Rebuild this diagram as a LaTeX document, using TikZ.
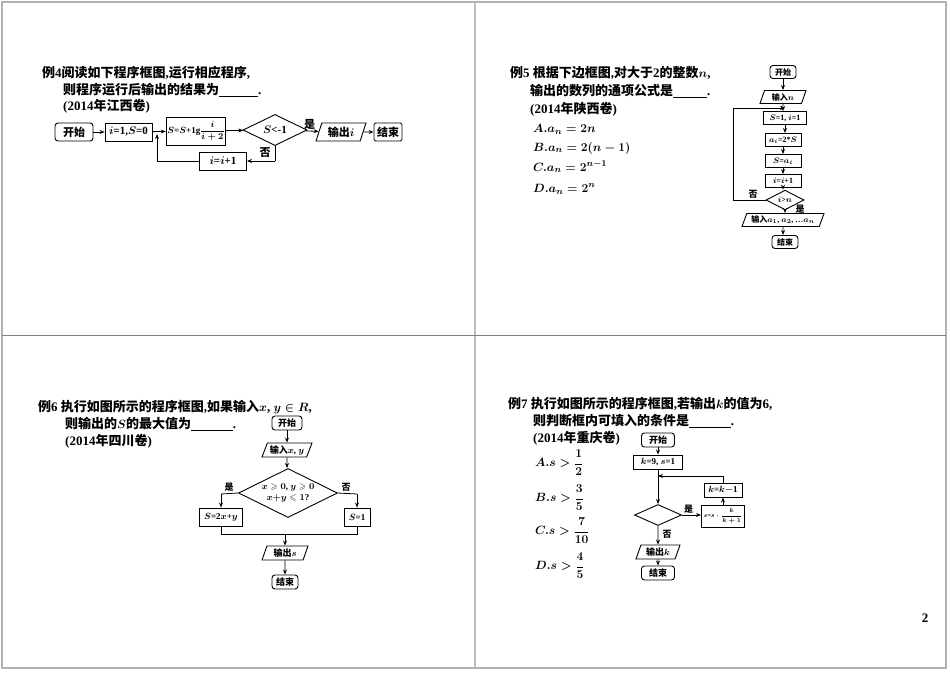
\documentclass[tikz,border=0pt]{standalone}
\usepackage{amsmath,amssymb}
\usepackage{fontspec}
\setmainfont{Liberation Serif}
\newfontfamily\cjk{Noto Sans CJK SC}
\newcommand{\C}[1]{{\cjk\bfseries #1}}
\usetikzlibrary{shapes.geometric,arrows.meta}
\begin{document}
\begin{tikzpicture}[x=1pt,y=-1pt,
  every node/.style={font=\bfseries\boldmath},
  txt/.style={anchor=west,inner sep=0pt,font=\fontsize{13}{15}\selectfont\bfseries\boldmath},
  fbox/.style={draw,line width=0.9pt,inner sep=1pt,minimum height=18pt,font=\fontsize{11}{12}\selectfont\bfseries\boldmath},
  rbox/.style={fbox,rounded corners=3pt},
  iobox/.style={fbox,trapezium,trapezium left angle=65,trapezium right angle=115,trapezium stretches body},
  dia/.style={draw,line width=0.9pt,diamond,inner sep=0pt,font=\fontsize{11}{12}\selectfont\bfseries\boldmath},
  sm/.style={font=\fontsize{8}{9}\selectfont\bfseries\boldmath,minimum height=13pt},
  arr/.style={-{Stealth[length=5pt,width=4pt]},line width=0.8pt},
  ln/.style={line width=0.8pt},
  lab/.style={inner sep=1pt,font=\fontsize{11}{12}\selectfont}]
\useasboundingbox (0,0) rectangle (950,672);
\fill[white] (0,0) rectangle (950,672);
% frame
\draw[gray!60,line width=1.2pt] (2,2) rectangle (946,668);
\draw[gray!50,line width=2pt] (475,2) -- (475,668);
\draw[gray,line width=0.8pt] (2,335) -- (946,335);
\node[anchor=center,font=\fontsize{13}{15}\selectfont\bfseries] (pg) at (925,618) {2};

% ---------- Panel 1 ----------
\node[txt] (t1a) at (42,73) {\C{例}4\C{阅读如下程序框图},\C{运行相应程序},};
\node[txt] (t1b) at (63,90) {\C{则程序运行后输出的结果为}\underline{\hspace{3em}}.};
\node[txt] (t1c) at (63,106) {(2014\C{年江西卷})};
\node[rbox,minimum width=38pt] (st1) at (74,132) {\C{开始}};
\node[fbox,minimum width=47pt] (in1) at (128.5,132) {$i$=1,$S$=0};
\node[fbox,minimum width=58pt,minimum height=28pt,font=\fontsize{9}{10}\selectfont\bfseries\boldmath] (s1) at (196,131) {$S$=$S$+1g$\dfrac{i}{i+2}$};
\node[dia,minimum width=64pt,minimum height=29pt] (d1) at (275,130) {$S$<-1};
\node[iobox,minimum width=50pt] (o1) at (341,132) {\C{输出}$i$};
\node[rbox,rounded corners=1.5pt,minimum width=28pt] (e1) at (388,132) {\C{结束}};
\node[fbox,minimum width=47pt] (inc1) at (223,161) {$i$=$i$+1};
\coordinate (c1a) at (275,161);
\coordinate (c1b) at (157,161);
\coordinate (c1c) at (157,134);
\draw[arr] (st1) -- (in1);
\draw[arr] (in1) -- (s1);
\draw[arr] (s1) -- (d1);
\draw[arr] (d1) -- node[lab,above,pos=0.3] (yes1) {\C{是}} (o1);
\draw[arr] (o1) -- (e1);
\draw[ln] (d1.south) -- (c1a);
\draw[arr] (c1a) -- (inc1.east);
\node[lab] (no1) at (265,153) {\C{否}};
\draw[ln] (inc1.west) -- (c1b);
\draw[arr] (c1b) -- (c1c);

% ---------- Panel 2 ----------
\node[txt] (t2a) at (510,73) {\C{例}5 \C{根据下边框图},\C{对大于}2\C{的整数}$n$,};
\node[txt] (t2b) at (530,91) {\C{输出的数列的通项公式是}\underline{\hspace{2.6em}}.};
\node[txt] (t2c) at (530,109) {(2014\C{年陕西卷})};
\node[txt] (o2a) at (533,129) {$A.a_n=2n$};
\node[txt] (o2b) at (533,148) {$B.a_n=2(n-1)$};
\node[txt] (o2c) at (533,167) {$C.a_n=2^{n-1}$};
\node[txt] (o2d) at (533,189) {$D.a_n=2^n$};
\node[rbox,sm,minimum width=26pt] (st2) at (783,72) {\C{开始}};
\node[iobox,sm,minimum width=46pt] (in2) at (783,97) {\C{输入}$n$};
\node[fbox,sm,minimum width=43pt] (b2a) at (785,118) {$S$=1, $i$=1};
\node[fbox,sm,minimum width=36pt] (b2b) at (783,140) {$a_i$=2*$S$};
\node[fbox,sm,minimum width=36pt] (b2c) at (783,161) {$S$=$a_i$};
\node[fbox,sm,minimum width=36pt] (b2d) at (783,181) {$i$=$i$+1};
\node[dia,sm,minimum width=38pt,minimum height=11pt] (d2) at (785,200) {$i$>$n$};
\node[iobox,sm,minimum width=82pt] (o2) at (783,220) {\C{输入}$a_1$, $a_2$, …$a_n$};
\node[rbox,sm,minimum width=26pt] (e2) at (785,242) {\C{结束}};
\coordinate (c2a) at (733,200);
\coordinate (c2b) at (733,108);
\coordinate (c2c) at (785,108);
\draw[arr] (st2) -- (in2);
\draw[arr] (in2) -- (in2 |- b2a.north);
\draw[arr] (b2a) -- (b2a |- b2b.north);
\draw[arr] (b2b) -- (b2c);
\draw[arr] (b2c) -- (b2d);
\draw[arr] (b2d) -- (b2d |- d2.north);
\draw[arr] (d2) -- (d2 |- o2.north);
\draw[arr] (o2) -- (o2 |- e2.north);
\draw[ln] (d2.west) -- (c2a) -- (c2b);
\draw[arr] (c2b) -- (c2c);
\node[lab,font=\fontsize{9}{10}\selectfont] (no2) at (753,194) {\C{否}};
\node[lab,font=\fontsize{9}{10}\selectfont] (yes2) at (800,209) {\C{是}};

% ---------- Panel 3 ----------
\node[txt] (t3a) at (38,407) {\C{例}6 \C{执行如图所示的程序框图},\C{如果输入}$x$, $y\in R$,};
\node[txt] (t3b) at (65,424) {\C{则输出的}$S$\C{的最大值为}\underline{\hspace{3.2em}}.};
\node[txt] (t3c) at (65,441) {(2014\C{年四川卷})};
\node[rbox,sm,minimum width=30pt,minimum height=14pt,font=\fontsize{9}{10}\selectfont\bfseries] (st3) at (287,423) {\C{开始}};
\node[iobox,sm,minimum width=50pt,minimum height=14pt,font=\fontsize{9}{10}\selectfont\bfseries\boldmath] (in3) at (287,450) {\C{输入}$x$, $y$};
\node[dia,minimum width=99pt,minimum height=49pt] (d3) at (288,493) {};
\node[font=\fontsize{9}{11}\selectfont\bfseries\boldmath,align=center] (d3t) at (288,493) {$x\geqslant0$, $y\geqslant0$\\$x{+}y\leqslant1$?};
\node[fbox,sm,minimum width=43pt,minimum height=18pt,font=\fontsize{9}{10}\selectfont\bfseries\boldmath] (l3) at (221,517) {$S$=2$x$+$y$};
\node[fbox,sm,minimum width=26pt,minimum height=18pt,font=\fontsize{9}{10}\selectfont\bfseries\boldmath] (r3) at (357,517) {$S$=1};
\node[iobox,sm,minimum width=46pt,minimum height=14pt,font=\fontsize{9}{10}\selectfont\bfseries\boldmath] (o3) at (285,553) {\C{输出}$s$};
\node[rbox,sm,minimum width=26pt,minimum height=14pt,font=\fontsize{9}{10}\selectfont\bfseries] (e3) at (285,582) {\C{结束}};
\coordinate (c3a) at (221,494);
\coordinate (c3b) at (357,494);
\coordinate (c3c) at (221,534);
\coordinate (c3d) at (357,534);
\coordinate (c3e) at (285,534);
\draw[arr] (st3) -- (in3);
\draw[arr] (in3) -- (in3 |- d3.north);
\draw[ln] (d3.west) -- (c3a);
\draw[arr] (c3a) -- (l3);
\draw[ln] (d3.east) -- (c3b);
\draw[arr] (c3b) -- (r3);
\draw[ln] (l3) -- (c3c) -- (c3d) -- (r3);
\draw[arr] (c3e) -- (o3);
\draw[arr] (o3) -- (e3);
\node[lab,font=\fontsize{9}{10}\selectfont] (yes3) at (229,487) {\C{是}};
\node[lab,font=\fontsize{9}{10}\selectfont] (no3) at (346,487) {\C{否}};

% ---------- Panel 4 ----------
\node[txt] (t4a) at (508,404) {\C{例}7 \C{执行如图所示的程序框图},\C{若输出}$k$\C{的值为}6,};
\node[txt] (t4b) at (533,421) {\C{则判断框内可填入的条件是}\underline{\hspace{3.2em}}.};
\node[txt] (t4c) at (533,438) {(2014\C{年重庆卷})};
\node[txt] (o4a) at (535,463) {$A.s>\dfrac12$};
\node[txt] (o4b) at (535,498) {$B.s>\dfrac35$};
\node[txt] (o4c) at (535,531) {$C.s>\dfrac7{10}$};
\node[txt] (o4d) at (535,566) {$D.s>\dfrac45$};
\node[rbox,sm,minimum width=33pt,minimum height=14pt,font=\fontsize{9}{10}\selectfont\bfseries] (st4) at (658,440) {\C{开始}};
\node[fbox,sm,minimum width=49pt,minimum height=14pt,font=\fontsize{9}{10}\selectfont\bfseries\boldmath] (b4a) at (658,462) {$k$=9, $s$=1};
\node[dia,minimum width=47pt,minimum height=21pt] (d4) at (658,515) {};
\node[fbox,sm,minimum width=43pt,minimum height=22pt,font=\fontsize{6}{7}\selectfont\bfseries\boldmath] (b4b) at (723,516) {$s$=$s\cdot\dfrac{k}{k+1}$};
\node[fbox,sm,minimum width=38pt,minimum height=14pt,font=\fontsize{9}{10}\selectfont\bfseries\boldmath] (b4c) at (723,490) {$k$=$k$$-$1};
\node[iobox,sm,minimum width=44pt,minimum height=14pt,font=\fontsize{9}{10}\selectfont\bfseries\boldmath] (o4) at (658,552) {\C{输出}$k$};
\node[rbox,sm,minimum width=33pt,minimum height=14pt,font=\fontsize{9}{10}\selectfont\bfseries] (e4) at (658,573) {\C{结束}};
\coordinate (c4a) at (723,476);
\coordinate (c4b) at (658,476);
\draw[arr] (st4) -- (b4a);
\draw[arr] (b4a) -- (d4.north);
\draw[arr] (d4.east) -- node[lab,above,pos=0.35,font=\fontsize{9}{10}\selectfont] (yes4) {\C{是}} (b4b.west |- d4.east);
\draw[arr] (b4b) -- (b4c);
\draw[ln] (b4c) -- (c4a);
\draw[arr] (c4a) -- (c4b);
\draw[arr] (d4.south) -- (o4);
\draw[arr] (o4) -- (e4);
\node[lab,font=\fontsize{9}{10}\selectfont] (no4) at (667,534) {\C{否}};
\end{tikzpicture}
\end{document}
